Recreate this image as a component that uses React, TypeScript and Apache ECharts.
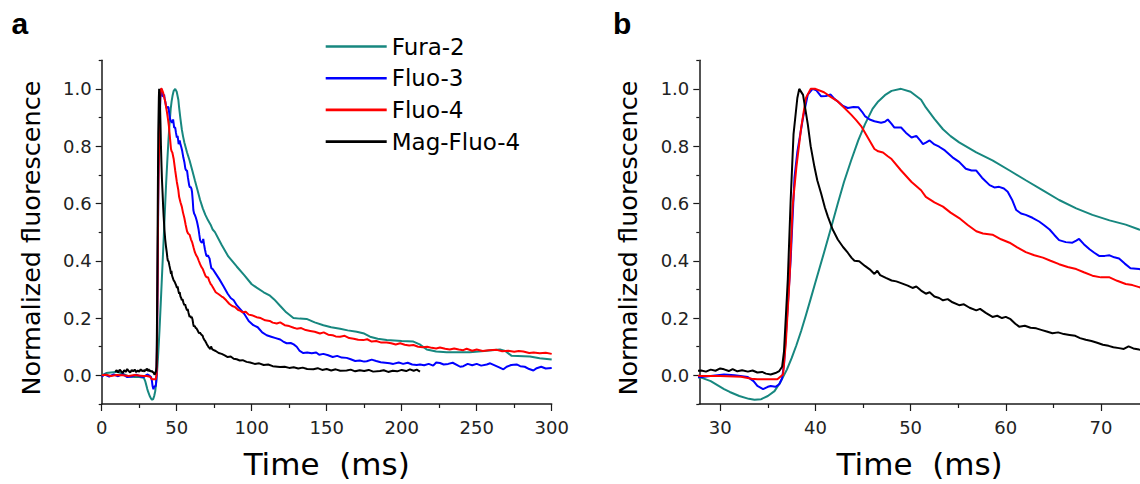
import React, { useEffect, useRef } from 'react';
import * as echarts from 'echarts';

const seriesNames = ['Fura-2', 'Fluo-3', 'Fluo-4', 'Mag-Fluo-4'];
const seriesColors = ['#17877f', '#0000ff', '#ff0000', '#000000'];

const yLabelValues = [0, 0.2, 0.4, 0.6, 0.8, 1.0];
const yMinorValues = [-0.1, 0.1, 0.3, 0.5, 0.7, 0.9, 1.1];
const xLabelsB = [30, 40, 50, 60, 70];
const xMinorB = [35, 45, 55, 65];

// Time (ms), normalized fluorescence
const fura2 = [
  [0, 0.0], [3, 0.008], [6, 0.01], [10, 0.012], [14, 0.006], [18, -0.004], [22, -0.006], [25, -0.006], [28, -0.008],
  [29, -0.02], [30.4, -0.048], [31, -0.058], [32, -0.072], [33, -0.082], [33.6, -0.085], [34.3, -0.083], [35, -0.072],
  [35.7, -0.055], [36.3, -0.025], [37, 0.02], [37.5, 0.06], [38, 0.105], [38.5, 0.155], [39, 0.21], [39.5, 0.267],
  [40, 0.325], [40.9, 0.428], [41.6, 0.51], [42.35, 0.6], [43, 0.675], [43.75, 0.75], [44.5, 0.82], [45.2, 0.876],
  [46, 0.93], [46.6, 0.956], [47.3, 0.978], [48, 0.993], [49, 1.0], [50, 0.99], [51.1, 0.962], [51.6, 0.935],
  [52.5, 0.895], [53.4, 0.859], [54.2, 0.835], [55.1, 0.813], [56.9, 0.778], [58.6, 0.75], [60.4, 0.715],
  [62.1, 0.681], [63.9, 0.646], [65.6, 0.612], [67.4, 0.583], [69.1, 0.56], [70.9, 0.541], [72.6, 0.526],
  [74, 0.509], [75.5, 0.5], [80, 0.455], [84.4, 0.415], [90, 0.38], [95, 0.35], [100, 0.318], [103.3, 0.306],
  [108, 0.29], [112.2, 0.278], [115, 0.265], [118.9, 0.243], [123, 0.22], [127.8, 0.2], [132, 0.198],
  [136.6, 0.197], [142, 0.185], [147.8, 0.175], [153, 0.168], [158.9, 0.163], [164, 0.157], [170, 0.152],
  [175, 0.146], [178.9, 0.135], [184, 0.128], [190, 0.123], [200, 0.12], [207.8, 0.118], [212, 0.108],
  [216.7, 0.09], [223, 0.083], [230, 0.081], [245.5, 0.081], [255, 0.085], [265.5, 0.09], [269, 0.085],
  [273.3, 0.068], [285.5, 0.066], [292, 0.06], [300, 0.055],
];

const fluo3 = [
  [0, -0.005], [2, 0.003], [5, -0.004], [8, 0.003], [11, -0.003], [14, 0.004], [17, -0.006], [20, -0.004],
  [23, 0.002], [26, -0.004], [28, -0.006], [29, -0.002], [30.4, 0.003], [31.5, 0.0], [32.9, -0.006], [33.5, -0.02],
  [33.9, -0.037], [34.5, -0.048], [35, -0.04], [35.3, -0.037], [35.8, -0.04], [36.2, -0.031], [36.5, -0.01],
  [36.7, 0.038], [37.1, 0.245], [37.4, 0.405], [37.8, 0.69], [38.1, 0.78], [38.7, 0.9], [39.2, 0.98], [39.7, 1.0],
  [40.1, 0.995], [40.6, 0.974], [41.1, 0.975], [41.6, 0.98], [42, 0.965], [42.35, 0.956], [42.9, 0.94],
  [43.4, 0.933], [44, 0.937], [44.5, 0.936], [44.9, 0.92], [45.2, 0.905], [45.7, 0.893], [46.2, 0.887],
  [46.9, 0.882], [47.3, 0.885], [47.6, 0.893], [48, 0.878], [48.3, 0.865], [49, 0.865], [49.5, 0.847],
  [50.1, 0.83], [50.6, 0.836], [51, 0.82], [51.3, 0.807], [51.6, 0.812], [52, 0.82], [52.5, 0.806], [53, 0.798],
  [53.6, 0.785], [54.4, 0.761], [55.1, 0.745], [55.8, 0.721], [56.4, 0.715], [56.9, 0.715], [57.5, 0.69],
  [58.3, 0.664], [58.8, 0.656], [59.3, 0.658], [59.8, 0.652], [60.2, 0.641], [60.7, 0.61], [61.1, 0.577],
  [61.6, 0.565], [62.1, 0.56], [62.8, 0.55], [63.5, 0.537], [64, 0.525], [64.6, 0.509], [65.1, 0.49],
  [65.6, 0.472], [66.3, 0.465], [67, 0.463], [67.4, 0.47], [67.7, 0.476], [68.2, 0.458], [68.8, 0.44],
  [69.3, 0.428], [69.8, 0.417], [70.4, 0.417], [70.9, 0.419], [71.4, 0.412], [71.9, 0.408], [72.5, 0.39],
  [73.1, 0.374], [74, 0.371], [76, 0.355], [78.5, 0.335], [81.1, 0.312], [84, 0.285], [86, 0.27], [88, 0.262],
  [90, 0.245], [92.2, 0.232], [95, 0.215], [98, 0.19], [101.1, 0.175], [104, 0.168], [107, 0.15], [110, 0.14],
  [113, 0.135], [116, 0.13], [119, 0.125], [121, 0.118], [123.3, 0.112], [126, 0.113], [128, 0.108], [130, 0.1],
  [132, 0.085], [134.4, 0.078], [137, 0.08], [140, 0.077], [143, 0.08], [145, 0.072], [147.8, 0.075], [151, 0.07],
  [154, 0.064], [157, 0.068], [160, 0.062], [163.3, 0.061], [166, 0.056], [169, 0.05], [172, 0.052], [175, 0.048],
  [176.7, 0.049], [180, 0.055], [183, 0.05], [186, 0.046], [189, 0.044], [192, 0.042], [194.4, 0.04], [198, 0.045],
  [201, 0.04], [204, 0.044], [207, 0.038], [210, 0.036], [212.2, 0.038], [215, 0.035], [218, 0.04], [221, 0.034],
  [223, 0.045], [225.5, 0.043], [228, 0.038], [231, 0.04], [234, 0.044], [237, 0.036], [239, 0.03], [241.1, 0.032],
  [244, 0.04], [247, 0.035], [250, 0.04], [253, 0.034], [256.7, 0.038], [259, 0.042], [262, 0.035], [265, 0.028],
  [267.8, 0.021], [270, 0.03], [273, 0.036], [276.6, 0.038], [279, 0.032], [282, 0.03], [285, 0.022],
  [287.8, 0.017], [290, 0.025], [293, 0.03], [296, 0.024], [300, 0.026],
];

const fluo4 = [
  [0, 0.0], [3, 0.002], [6, -0.002], [10, 0.001], [14, 0.0], [18, -0.002], [22, 0.001], [26, -0.001], [28, -0.002],
  [30, -0.002], [32.2, -0.005], [33.3, -0.012], [33.9, -0.014], [36, -0.014], [36.6, 0.003], [36.9, 0.118],
  [37.3, 0.348], [37.6, 0.589], [38, 0.727], [38.5, 0.864], [39, 0.968], [39.5, 1.0], [40, 1.0], [40.9, 0.988],
  [41.6, 0.972], [42.35, 0.956], [43, 0.935], [43.75, 0.91], [44.3, 0.89], [44.8, 0.87], [45.5, 0.83],
  [46.2, 0.79], [46.6, 0.782], [47.1, 0.778], [47.6, 0.765], [48, 0.755], [49, 0.715], [50.1, 0.675],
  [51.1, 0.646], [51.6, 0.623], [52.5, 0.604], [53.4, 0.589], [54.2, 0.568], [55.1, 0.549], [56, 0.525],
  [56.9, 0.503], [57.6, 0.495], [58.6, 0.491], [59.5, 0.475], [60.4, 0.463], [61.2, 0.447], [62.1, 0.43],
  [63, 0.419], [63.9, 0.411], [64.7, 0.4], [65.6, 0.388], [66.5, 0.378], [67.4, 0.371], [68.2, 0.36],
  [69.1, 0.348], [70, 0.342], [70.9, 0.342], [71.7, 0.33], [72.6, 0.319], [73.3, 0.315], [74, 0.308],
  [76, 0.29], [78, 0.283], [80, 0.275], [81.1, 0.272], [83, 0.262], [85, 0.25], [87, 0.242], [89, 0.238],
  [91, 0.228], [92.2, 0.226], [94, 0.22], [96, 0.222], [98, 0.212], [100, 0.21], [103.3, 0.203], [106, 0.2],
  [109, 0.192], [112, 0.19], [114, 0.184], [116.7, 0.181], [119, 0.185], [122, 0.175], [125, 0.172], [128, 0.166],
  [130, 0.163], [133, 0.165], [136, 0.158], [139, 0.155], [142, 0.152], [145.5, 0.146], [148, 0.15], [151, 0.142],
  [154, 0.14], [156, 0.136], [158.9, 0.135], [162, 0.138], [165, 0.13], [168, 0.128], [171, 0.124],
  [174.4, 0.123], [177, 0.126], [180, 0.118], [183, 0.12], [186, 0.115], [190, 0.115], [193, 0.112], [196, 0.108],
  [199, 0.112], [202, 0.107], [205, 0.104], [207.8, 0.106], [211, 0.1], [214, 0.098], [217, 0.1], [220, 0.096],
  [223, 0.094], [225.5, 0.097], [229, 0.093], [232, 0.09], [235, 0.094], [238, 0.09], [241, 0.088],
  [243.3, 0.093], [247, 0.086], [250, 0.09], [254, 0.085], [258, 0.088], [263.3, 0.089], [267, 0.084],
  [271, 0.086], [275, 0.082], [278, 0.085], [281.1, 0.083], [285, 0.078], [288, 0.08], [292, 0.077], [296, 0.079],
  [300, 0.075],
];

const magFluo4 = [
  [9, 0.012], [10, 0.018], [11, 0.01], [12, 0.02], [13, 0.014], [14, 0.008], [15, 0.018], [16, 0.012], [17, 0.022],
  [18, 0.015], [19, 0.01], [20, 0.019], [21, 0.014], [22, 0.02], [23, 0.011], [24, 0.017], [25, 0.013], [26, 0.021],
  [27, 0.015], [28, 0.017], [28.5, 0.013], [29, 0.02], [29.5, 0.016], [30, 0.024], [30.4, 0.021], [30.9, 0.015],
  [31.3, 0.022], [31.8, 0.014], [32.3, 0.018], [32.9, 0.013], [33.4, 0.017], [33.9, 0.01], [34.4, 0.012],
  [34.8, 0.006], [35.3, 0.003], [35.8, 0.008], [36.2, 0.015], [36.5, 0.03], [36.7, 0.084], [37.1, 0.336],
  [37.4, 0.612], [37.7, 0.842], [38.1, 0.968], [38.3, 1.0], [38.7, 0.979], [39.2, 0.876], [39.5, 0.8],
  [39.9, 0.727], [40.2, 0.68], [40.6, 0.635], [41, 0.585], [41.3, 0.555], [41.8, 0.51], [42.35, 0.474],
  [42.9, 0.448], [43.4, 0.428], [43.8, 0.41], [44.1, 0.4], [44.6, 0.398], [45.2, 0.382], [45.7, 0.37],
  [46.2, 0.354], [46.5, 0.365], [46.8, 0.35], [47.4, 0.34], [48, 0.331], [48.5, 0.328], [49, 0.322],
  [49.7, 0.313], [50.2, 0.305], [50.6, 0.31], [51.1, 0.296], [51.6, 0.285], [52, 0.29], [52.5, 0.275], [53, 0.27],
  [53.4, 0.262], [53.9, 0.266], [54.4, 0.255], [55.1, 0.245], [55.6, 0.248], [56.2, 0.236], [56.9, 0.227],
  [57.3, 0.232], [57.9, 0.218], [58.6, 0.204], [59.1, 0.208], [59.6, 0.2], [60, 0.204], [60.5, 0.196], [61, 0.18],
  [61.4, 0.17], [62, 0.173], [62.6, 0.166], [63.2, 0.164], [63.8, 0.158], [64.3, 0.153], [64.9, 0.147],
  [65.5, 0.15], [66.1, 0.144], [66.7, 0.141], [67.3, 0.138], [67.8, 0.13], [68.4, 0.124], [69, 0.12],
  [69.6, 0.114], [70.2, 0.107], [70.8, 0.103], [71.3, 0.098], [71.9, 0.095], [72.4, 0.092], [72.9, 0.101],
  [73.4, 0.094], [74, 0.09], [76, 0.085], [78, 0.078], [80, 0.075], [82, 0.07], [84, 0.064], [86, 0.066],
  [88, 0.058], [90, 0.056], [92, 0.052], [94, 0.053], [96.6, 0.047], [99, 0.045], [102, 0.04], [105, 0.042],
  [108, 0.036], [111, 0.038], [114, 0.032], [118.9, 0.029], [122, 0.03], [125, 0.026], [128, 0.028], [131, 0.024],
  [134, 0.027], [137, 0.022], [141.1, 0.021], [144, 0.025], [147, 0.019], [150, 0.022], [153, 0.017], [156, 0.021],
  [159, 0.016], [163.3, 0.017], [166, 0.02], [169, 0.014], [172, 0.018], [175, 0.015], [178, 0.019], [181, 0.013],
  [185.5, 0.015], [188, 0.018], [191, 0.012], [194, 0.016], [197, 0.014], [200, 0.019], [203, 0.015],
  [205.5, 0.021], [208, 0.016], [210, 0.02], [212.2, 0.013],
];

const seriesData = [fura2, fluo3, fluo4, magFluo4];

const FONT = '"DejaVu Sans", sans-serif';
const AXIS_COLOR = '#1a1a1a';

export default function App() {
  const ref = useRef<HTMLDivElement>(null);

  useEffect(() => {
    if (!ref.current) return;
    const chart = echarts.init(ref.current, null, { renderer: 'svg' });

    const axisLine = { show: true, onZero: false, lineStyle: { color: AXIS_COLOR, width: 1.5 } };
    const hiddenLine = { show: false, onZero: false };
    const tickLine = { color: AXIS_COLOR, width: 1.2 };
    const labelStyle = { fontSize: 18, fontFamily: FONT, color: '#222' };

    const mainY = (g: number) => ({
      type: 'value', gridIndex: g, min: -0.1, max: 1.1, position: 'left',
      axisLine,
      axisTick: { show: true, length: 6, customValues: yLabelValues, lineStyle: tickLine },
      axisLabel: { show: true, customValues: yLabelValues, margin: 10, formatter: (v: number) => v.toFixed(1), ...labelStyle },
      splitLine: { show: false },
      name: 'Normalized fluorescence', nameLocation: 'middle', nameGap: 58,
      nameTextStyle: { fontSize: 25.5, fontFamily: FONT, color: '#000', padding: [0, 12, 0, 0] },
    });
    const minorY = (g: number) => ({
      type: 'value', gridIndex: g, min: -0.1, max: 1.1, position: 'left', offset: 0,
      axisLine: hiddenLine,
      axisTick: { show: true, length: 3, customValues: yMinorValues, lineStyle: tickLine },
      axisLabel: { show: false },
      splitLine: { show: false },
    });
    const xName = {
      name: 'Time  (ms)', nameLocation: 'middle', nameGap: 44,
      nameTextStyle: { fontSize: 31, fontFamily: FONT, color: '#000' },
    };

    const series: any[] = [];
    for (let g = 0; g < 2; g++) {
      seriesData.forEach((d, i) => {
        series.push({
          type: 'line', name: seriesNames[i], data: d,
          xAxisIndex: g, yAxisIndex: g === 0 ? 0 : 2,
          symbol: 'none', showSymbol: false, clip: true,
          lineStyle: { color: seriesColors[i], width: 2 },
          itemStyle: { color: seriesColors[i] },
          z: 2 + i,
        });
      });
    }

    chart.setOption({
      animation: false,
      backgroundColor: '#ffffff',
      grid: [
        { left: 101.7, top: 60.2, width: 450, height: 350 },
        { left: 699.3, top: 60.2, width: 440.7, height: 350 },
      ],
      legend: {
        data: seriesNames,
        orient: 'vertical', left: 320.7, top: 30,
        icon: 'rect',
        itemWidth: 61, itemHeight: 2.6, itemGap: 8.7,
        textStyle: { fontSize: 23, fontFamily: FONT, color: '#000', lineHeight: 23 },
        selectedMode: false,
      },
      xAxis: [
        {
          type: 'value', gridIndex: 0, min: 0, max: 300, interval: 50,
          axisLine,
          axisTick: { show: true, length: 7, lineStyle: tickLine },
          minorTick: { show: true, splitNumber: 2, length: 4, lineStyle: tickLine },
          axisLabel: { margin: 14, ...labelStyle },
          splitLine: { show: false }, minorSplitLine: { show: false },
          ...xName,
        },
        {
          type: 'value', gridIndex: 1, min: 27.8, max: 74.1,
          axisLine,
          axisTick: { show: true, length: 7, customValues: xLabelsB, lineStyle: tickLine },
          axisLabel: { customValues: xLabelsB, margin: 14, ...labelStyle },
          splitLine: { show: false },
          ...xName,
        },
        {
          type: 'value', gridIndex: 1, min: 27.8, max: 74.1, position: 'bottom', offset: 0,
          axisLine: hiddenLine,
          axisTick: { show: true, length: 4, customValues: xMinorB, lineStyle: tickLine },
          axisLabel: { show: false },
          splitLine: { show: false },
        },
      ],
      yAxis: [mainY(0), minorY(0), mainY(1), minorY(1)],
      graphic: [
        { type: 'text', left: 11.5, top: 8.5, style: { text: 'a', font: 'bold 30px "Liberation Sans", Arial, sans-serif', fill: '#000' } },
        { type: 'text', left: 613, top: 8.5, style: { text: 'b', font: 'bold 30px "Liberation Sans", Arial, sans-serif', fill: '#000' } },
      ],
      series,
    });

    return () => chart.dispose();
  }, []);

  return (
    <div
      ref={ref}
      style={{ position: 'fixed', left: 0, top: 0, width: 1140, height: 484, background: '#fff' }}
    />
  );
}
